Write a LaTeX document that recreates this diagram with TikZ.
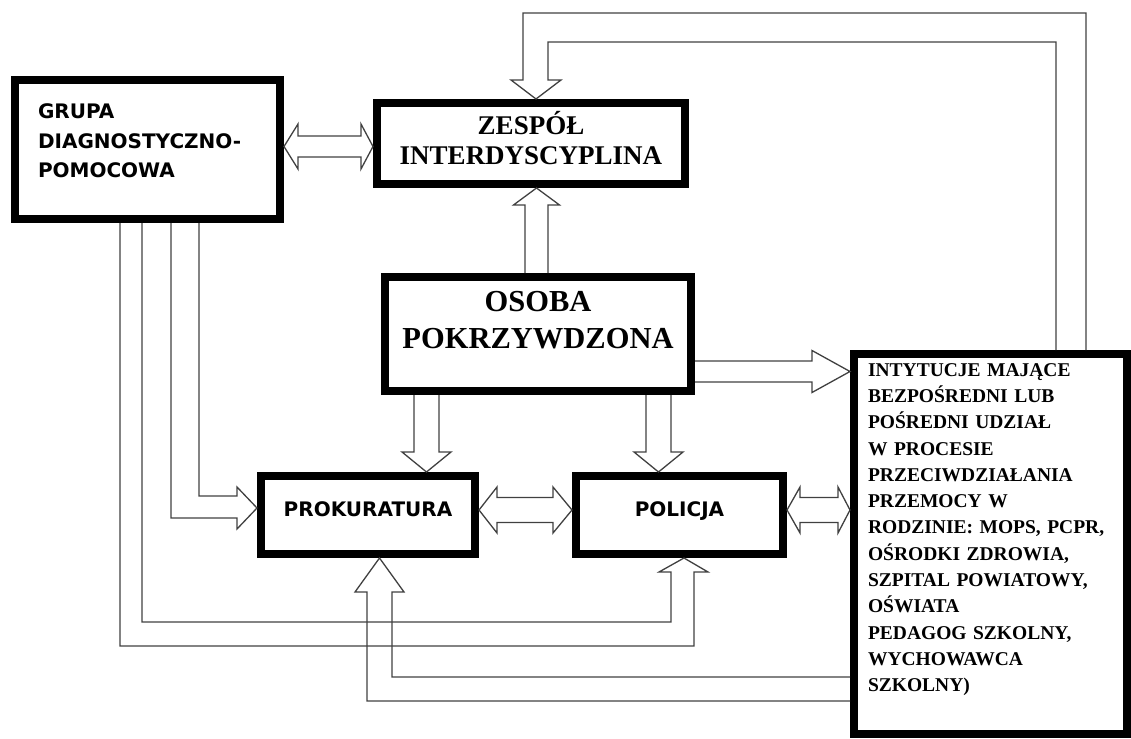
\documentclass[tikz,border=0pt]{standalone}
\usepackage{fontspec}
\setmainfont{Liberation Serif}
\newfontfamily\boxsans{DejaVu Sans}
\usetikzlibrary{calc}
\tikzset{
  box/.style={draw, rectangle, line width=8pt, inner sep=0pt},
  blk/.style={draw=black!75, line width=1.3pt},
  sanstext/.style={font=\boxsans\bfseries\fontsize{20}{29.5}\selectfont},
}
\newcommand{\lift}[1]{\rule[-#1]{0pt}{#1}}
% tail, tip, shaft half width, head half width, head length
\newcommand{\blockarrow}[5]{%
  \coordinate (ha) at ($(#2)!#5!(#1)$);
  \draw[blk] ($(#1)!#3!90:(#2)$) -- ($(ha)!#3!-90:(#1)$) -- ($(ha)!#4!-90:(#1)$) -- (#2)
    -- ($(ha)!#4!90:(#1)$) -- ($(ha)!#3!90:(#1)$) -- ($(#1)!#3!-90:(#2)$);
}
% end, end, shaft half width, head half width, head lengths
\newcommand{\blockarrowboth}[6]{%
  \coordinate (ha) at ($(#1)!#5!(#2)$);
  \coordinate (hb) at ($(#2)!#6!(#1)$);
  \draw[blk] (#1) -- ($(ha)!#4!90:(#2)$) -- ($(ha)!#3!90:(#2)$) -- ($(hb)!#3!-90:(#1)$)
    -- ($(hb)!#4!-90:(#1)$) -- (#2) -- ($(hb)!#4!90:(#1)$) -- ($(hb)!#3!90:(#1)$)
    -- ($(ha)!#3!-90:(#2)$) -- ($(ha)!#4!-90:(#2)$) -- cycle;
}

\begin{document}
\begin{tikzpicture}[x=1pt, y=-1pt]
\useasboundingbox (0,0) rectangle (1131,738);

\node[box, sanstext, minimum width=265pt, minimum height=139pt, text width=219pt, align=left] (grupa) at (147.5,149.5) {GRUPA\\DIAGNOSTYCZNO-\\POMOCOWA\lift{17pt}};
\node[box, minimum width=308pt, minimum height=81pt, align=center, font=\bfseries\fontsize{27}{30}\selectfont] (zespol) at (531,143.5) {ZESPÓŁ\\INTERDYSCYPLINA\lift{12pt}};
\node[box, minimum width=306pt, minimum height=114pt, align=center, font=\bfseries\fontsize{30.5}{37}\selectfont] (osoba) at (538,334) {OSOBA\\POKRZYWDZONA\lift{28pt}};
\node[box, sanstext, minimum width=214pt, minimum height=78pt] (prok) at (368,515) {PROKURATURA\lift{11pt}};
\node[box, sanstext, minimum width=207pt, minimum height=78pt] (policja) at (679.5,515) {POLICJA\lift{11pt}};
\node[box, minimum width=273pt, minimum height=380pt, text width=245pt, align=left, font=\bfseries\fontsize{19.5}{26.3}\selectfont] (inst) at (990.5,544) {INTYTUCJE MAJĄCE\\BEZPOŚREDNI LUB\\POŚREDNI UDZIAŁ\\W PROCESIE\\PRZECIWDZIAŁANIA\\PRZEMOCY W\\RODZINIE: MOPS, PCPR,\\OŚRODKI ZDROWIA,\\SZPITAL POWIATOWY,\\OŚWIATA\\PEDAGOG SZKOLNY,\\WYCHOWAWCA\\SZKOLNY)\lift{33pt}};

\coordinate (a1) at ($(grupa.east)+(0,-3)$);
\coordinate (b1) at ($(zespol.west)+(0,3)$);
\blockarrowboth{a1}{b1}{10.5pt}{22.5pt}{14pt}{12pt}
\coordinate (a2) at ($(osoba.north)+(-1.5,0)$);
\coordinate (b2) at (a2 |- zespol.south);
\blockarrow{a2}{b2}{11.5pt}{23pt}{17pt}
\coordinate (a4) at ($(osoba.east)+(0,37.5)$);
\coordinate (b4) at (a4 -| inst.west);
\blockarrow{a4}{b4}{10.5pt}{21pt}{38pt}
\coordinate (a5) at ($(osoba.south west)+(45.5,0)$);
\coordinate (b5) at (a5 |- prok.north);
\coordinate (a6) at ($(osoba.south east)+(-36.5,0)$);
\coordinate (b6) at (a6 |- policja.north);
\foreach \s/\t in {a5/b5, a6/b6}
  \blockarrow{\s}{\t}{12.5pt}{24.5pt}{20pt}
\coordinate (a7) at ($(prok.east)+(0,-5)$);
\coordinate (b7) at (a7 -| policja.west);
\blockarrowboth{a7}{b7}{12.5pt}{23pt}{18pt}{19pt}
\coordinate (a8) at ($(policja.east)+(0,-5)$);
\coordinate (b8) at (a8 -| inst.west);
\blockarrowboth{a8}{b8}{12.5pt}{23pt}{13pt}{12pt}

\draw[blk] (1056,0 |- inst.north) -- (1056,42) -- (548,42) -- (548,80) -- (561,80) -- (536,0 |- zespol.north)
  -- (511,80) -- (523,80) -- (523,13) -- (1086,13) -- (1086,0 |- inst.north);
\draw[blk] (199,0 |- grupa.south) -- (199,496) -- (237,496) -- (237,487) -- (prok.west |- 0,508)
  -- (237,529) -- (237,518) -- (171,518) -- (171,0 |- grupa.south);
\draw[blk] (142,0 |- grupa.south) -- (142,622) -- (671,622) -- (671,572) -- (659,572) -- (684,0 |- policja.south)
  -- (708,572) -- (694,572) -- (694,646) -- (120,646) -- (120,0 |- grupa.south);
\draw[blk] (inst.west |- 0,677) -- (392,677) -- (392,592) -- (404,592) -- (379.5,0 |- prok.south)
  -- (355,592) -- (367,592) -- (367,701) -- (inst.west |- 0,701);
\end{tikzpicture}
\end{document}
